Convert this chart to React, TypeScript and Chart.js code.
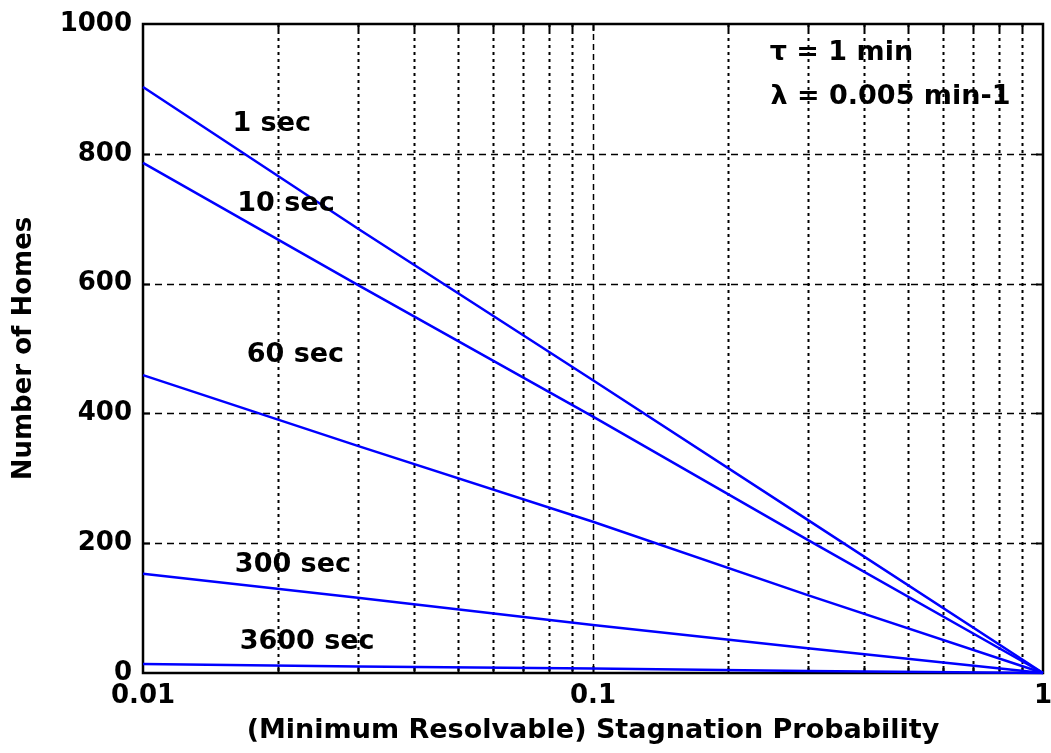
import React, { useEffect, useRef } from "react";
import { Chart, registerables } from "chart.js";

Chart.register(...registerables);

// ---- data ----
const probability = [0.01, 0.03, 0.1, 0.3, 1];
const homes1s = [903, 685, 451, 236, 0];
const homes10s = [786, 598, 395, 205, 0];
const homes60s = [459, 350, 233, 120, 0];
const homes300s = [153, 116, 74, 38, 0];
const homes3600s = [14, 10, 7, 3, 0];

const seriesNames = ["1 sec", "10 sec", "60 sec", "300 sec", "3600 sec"];
const xTickValues = [0.01, 0.1, 1];
const xMinorGrid = [0.02, 0.03, 0.04, 0.05, 0.06, 0.07, 0.08, 0.09, 0.2, 0.3, 0.4, 0.5, 0.6, 0.7, 0.8, 0.9];
const yGridValues = [200, 400, 600, 800];

// in-plot label anchors (data units)
const labelP = [0.0158, 0.0162, 0.017, 0.016, 0.0164];
const labelN = [846, 723, 490, 166, 48];
const noteLines = ["τ = 1 min", "λ = 0.005 min-1"];
const noteP = [0.247, 0.248];
const noteN = [955, 888];

const FONT_FAMILY = "'DejaVu Sans', sans-serif";

const decorPlugin = {
  id: "decor",
  beforeDatasetsDraw(chart: any) {
    const { ctx, chartArea } = chart;
    const xs = chart.scales.x;
    const ys = chart.scales.y;
    const { left, right, top, bottom } = chartArea;
    ctx.save();
    ctx.strokeStyle = "#000";
    // minor vertical dotted grid
    ctx.lineWidth = 2;
    ctx.setLineDash([3, 4]);
    xMinorGrid.forEach((v) => {
      const px = Math.round(xs.getPixelForValue(v)) + 0.5;
      ctx.beginPath();
      ctx.moveTo(px, top);
      ctx.lineTo(px, bottom);
      ctx.stroke();
    });
    // 0.1 major vertical dashed
    ctx.lineWidth = 1.5;
    ctx.setLineDash([6, 4]);
    {
      const px = Math.round(xs.getPixelForValue(0.1)) + 0.5;
      ctx.beginPath();
      ctx.moveTo(px, top);
      ctx.lineTo(px, bottom);
      ctx.stroke();
    }
    // horizontal dashed grid
    ctx.lineWidth = 1.5;
    ctx.setLineDash([7, 5]);
    yGridValues.forEach((v) => {
      const py = Math.round(ys.getPixelForValue(v)) + 0.5;
      ctx.beginPath();
      ctx.moveTo(left, py);
      ctx.lineTo(right, py);
      ctx.stroke();
    });
    ctx.setLineDash([]);
    // tick marks (inside)
    ctx.lineWidth = 2;
    const tl = 7;
    yGridValues.forEach((v) => {
      const py = Math.round(ys.getPixelForValue(v)) + 0.5;
      ctx.beginPath();
      ctx.moveTo(left, py);
      ctx.lineTo(left + tl, py);
      ctx.moveTo(right, py);
      ctx.lineTo(right - tl, py);
      ctx.stroke();
    });
    [...xMinorGrid, 0.1].forEach((v) => {
      const px = Math.round(xs.getPixelForValue(v)) + 0.5;
      ctx.beginPath();
      ctx.moveTo(px, bottom);
      ctx.lineTo(px, bottom - tl);
      ctx.moveTo(px, top);
      ctx.lineTo(px, top + tl);
      ctx.stroke();
    });
    // box
    ctx.lineWidth = 2.5;
    ctx.strokeRect(left, top, right - left, bottom - top);
    ctx.restore();
  },
  afterDatasetsDraw(chart: any) {
    const { ctx } = chart;
    const xs = chart.scales.x;
    const ys = chart.scales.y;
    ctx.save();
    ctx.fillStyle = "#000";
    ctx.font = `bold 27px ${FONT_FAMILY}`;
    ctx.textAlign = "left";
    ctx.textBaseline = "middle";
    seriesNames.forEach((name, i) => {
      ctx.fillText(name, xs.getPixelForValue(labelP[i]), ys.getPixelForValue(labelN[i]));
    });
    noteLines.forEach((t, i) => {
      ctx.fillText(t, xs.getPixelForValue(noteP[i]), ys.getPixelForValue(noteN[i]));
    });
    ctx.restore();
  },
};

export default function App() {
  const canvasRef = useRef<HTMLCanvasElement>(null);

  useEffect(() => {
    const canvas = canvasRef.current;
    if (!canvas) return;
    const allSeries = [homes1s, homes10s, homes60s, homes300s, homes3600s];
    const chart = new Chart(canvas, {
      type: "line",
      data: {
        datasets: allSeries.map((vals, i) => ({
          label: seriesNames[i],
          data: probability.map((p, j) => ({ x: p, y: vals[j] })),
          borderColor: "#0000ff",
          backgroundColor: "#0000ff",
          borderWidth: 2.5,
          pointRadius: 0,
          tension: 0,
          fill: false,
          clip: false as any,
        })),
      },
      options: {
        responsive: false,
        animation: false,
        layout: { padding: { top: 24, right: 8, left: 0, bottom: 0 } },
        plugins: {
          legend: { display: false },
          tooltip: { enabled: false },
        },
        scales: {
          x: {
            type: "logarithmic",
            min: 0.01,
            max: 1,
            afterBuildTicks: (scale: any) => {
              scale.ticks = xTickValues.map((v) => ({ value: v }));
            },
            afterFit: (scale: any) => {
              scale.height = 80;
              scale.paddingLeft = 0;
              scale.paddingRight = 0;
            },
            grid: { display: false, drawTicks: false },
            border: { display: false },
            ticks: {
              autoSkip: false,
              maxRotation: 0,
              padding: 8,
              color: "#000",
              font: { family: FONT_FAMILY, size: 26, weight: "bold" },
              callback: (v: any) => String(v),
            },
            title: {
              display: true,
              text: "(Minimum Resolvable) Stagnation Probability",
              color: "#000",
              font: { family: FONT_FAMILY, size: 27, weight: "bold" },
              padding: { top: 0, bottom: 6 },
            },
          },
          y: {
            type: "linear",
            min: 0,
            max: 1000,
            afterFit: (scale: any) => {
              scale.width = 143;
              scale.paddingTop = 0;
              scale.paddingBottom = 0;
            },
            grid: { display: false, drawTicks: false },
            border: { display: false },
            ticks: {
              stepSize: 200,
              padding: 11,
              color: "#000",
              font: { family: FONT_FAMILY, size: 26, weight: "bold" },
              callback: (v: any) => String(v),
            },
            title: {
              display: true,
              text: "Number of Homes",
              color: "#000",
              font: { family: FONT_FAMILY, size: 26, weight: "bold" },
              padding: { top: 9, bottom: 0 },
            },
          },
        },
      } as any,
      plugins: [decorPlugin],
    });
    return () => chart.destroy();
  }, []);

  return (
    <div style={{ position: "fixed", left: 0, top: 0, width: 1051, height: 753, background: "#fff" }}>
      <canvas ref={canvasRef} width={1051} height={753} style={{ display: "block" }} />
    </div>
  );
}
